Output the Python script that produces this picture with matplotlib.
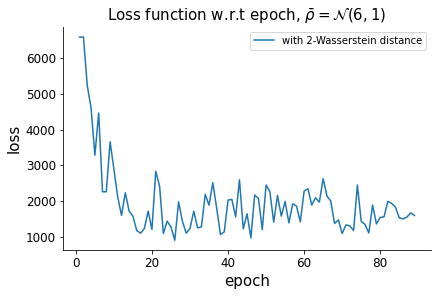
import matplotlib
matplotlib.use('Agg')
import matplotlib.pyplot as plt
import numpy as np

epochs = np.arange(1, 90)
loss = [
    6590, 6590, 5233, 4607, 3286, 4466, 2264, 2264, 3660, 2893,
    2124, 1601, 2236, 1722, 1581, 1180, 1104, 1236, 1722, 1208,
    2837, 2424, 1095, 1441, 1281, 907, 1983, 1441, 1104, 1236,
    1722, 1253, 1281, 2191, 1890, 2517, 1815, 1067, 1140, 2031,
    2050, 1562, 2601, 1225, 1646, 972, 2171, 2078, 1208, 2452,
    2264, 1413, 2162, 1581, 1994, 1393, 1927, 1862, 1421, 2284,
    2348, 1890, 2096, 1975, 2629, 2143, 2003, 1376, 1478, 1095,
    1337, 1309, 1180, 2452, 1441, 1348, 1112, 1890, 1365, 1545,
    1562, 1994, 1938, 1834, 1534, 1506, 1553, 1674, 1601,
]

fig = plt.figure(figsize=(440 / 72, 296 / 72), dpi=72)
ax = fig.add_axes([0.143, 0.154, 0.837, 0.755])
ax.plot(epochs, loss, color='#1f77b4', lw=1.5, label='with 2-Wasserstein distance')
ax.set_title(r'Loss function w.r.t epoch, $\bar{\rho} = \mathcal{N}(6, 1)$', fontsize=15)
ax.set_xlabel('epoch', fontsize=15)
ax.set_ylabel('loss', fontsize=15)
ax.tick_params(labelsize=12)
ax.spines['top'].set_visible(False)
ax.spines['right'].set_visible(False)
ax.legend(loc='upper right', fontsize=10)
fig.savefig('out.png', dpi=72)
